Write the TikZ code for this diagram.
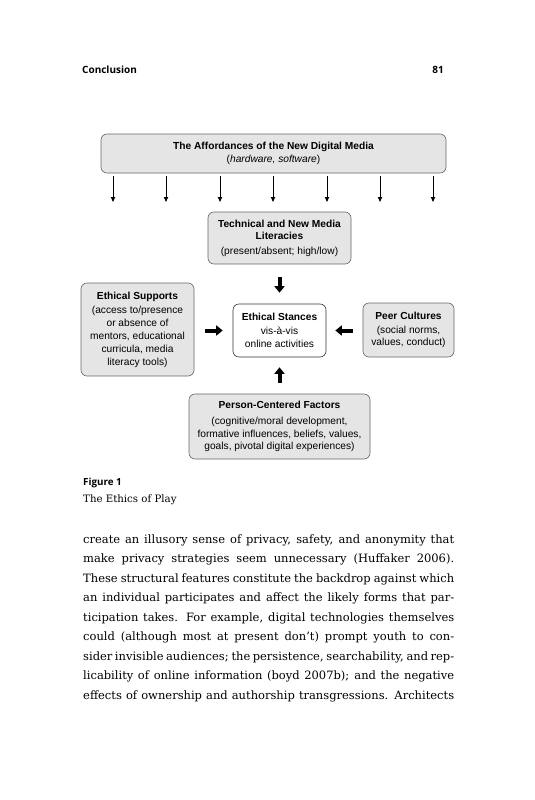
\documentclass[tikz,border=0pt]{standalone}
\usepackage{fontspec}
\setmainfont{DejaVu Serif}
\setsansfont{Liberation Sans}
\newfontfamily\headfont{Open Sans}
\usetikzlibrary{arrows.meta}
\begin{document}
\begin{tikzpicture}[x=1pt,y=-1pt,
  box/.style={draw=black!60, fill=black!10, rounded corners=6pt, line width=0.6pt,
    font=\sffamily\fontsize{10.2}{12.8}\selectfont, align=center, inner sep=0pt},
  wbox/.style={box, fill=white, draw=black!80},
  thinarrow/.style={line width=1pt, -{Triangle[length=5pt,width=4.2pt]}},
  fatarrow/.style={line width=4pt, -{Triangle[length=6.5pt,width=10pt]}},
  head/.style={font=\headfont\bfseries\fontsize{10}{12}\selectfont, inner sep=0pt},
  bodyline/.style={anchor=base west, inner sep=0pt, font=\fontsize{11.5}{19.5}\selectfont},
]
\useasboundingbox (0,0) rectangle (535,800);
\fill[white] (0,0) rectangle (535,800);

% running head
\node[head, anchor=base west] (runhead) at (82,74) {Conclusion};
\node[head, anchor=base east] (pagenum) at (444,74) {81};

% boxes
\node[box, minimum width=345pt, minimum height=39pt] (top) at (273.5,153.5)
  {\textbf{The Affordances of the New Digital Media}\\(\textit{hardware, software})};
\node[box, minimum width=143pt, minimum height=52pt] (tech) at (279.5,238)
  {\textbf{Technical and New Media}\\\textbf{Literacies}\\[1.5pt](present/absent; high/low)};
\node[box, minimum width=113pt, minimum height=93pt] (sup) at (137.5,329.5)
  {\textbf{Ethical Supports}\\[2pt](access to/presence\\or absence of\\mentors, educational\\curricula, media\\literacy tools)};
\node[wbox, minimum width=93pt, minimum height=53pt] (stance) at (279.5,330.5)
  {\textbf{Ethical Stances}\\[1pt]vis-à-vis\\online activities};
\node[box, minimum width=91pt, minimum height=54pt] (peer) at (408.5,330)
  {\textbf{Peer Cultures}\\[1pt](social norms,\\values, conduct)};
\node[box, minimum width=181pt, minimum height=65pt] (person) at (279.5,426.5)
  {\textbf{Person-Centered Factors}\\[3pt](cognitive/moral development,\\formative influences, beliefs, values,\\goals, pivotal digital experiences)};

% thin arrows from the top box
\foreach \i/\x in {1/113,2/166,3/220,4/273,5/327,6/380,7/433}{
  \coordinate (a\i) at (\x,202);
  \draw[thinarrow, shorten <=3pt] (top.south -| a\i) -- (a\i);
}

% fat arrows into the centre
\draw[fatarrow, shorten <=13pt, shorten >=11pt] (tech.south) -- (stance.north);
\draw[fatarrow, shorten <=11pt, shorten >=10pt] (person.north) -- (stance.south);
\draw[fatarrow, shorten <=11pt, shorten >=10pt] (sup.east |- stance.west) -- (stance.west);
\draw[fatarrow, shorten <=10pt, shorten >=9pt] (peer.west |- stance.east) -- (stance.east);

% caption
\node[anchor=base west, inner sep=0pt, font=\headfont\bfseries\fontsize{9.8}{12}\selectfont] (figlabel) at (83,485.5) {Figure 1};
\node[anchor=base west, inner sep=0pt, font=\fontsize{10.2}{14}\selectfont] (figtitle) at (83,502) {The Ethics of Play};

% body text
\node[bodyline] (l1) at (83,543.3) {\hbox to 371pt{create an illusory sense of privacy, safety, and anonymity that}};
\node[bodyline] (l2) at (83,562.8) {\hbox to 371pt{make privacy strategies seem unnecessary (Huffaker 2006).}};
\node[bodyline] (l3) at (83,582.3) {\hbox to 371pt{These structural features constitute the backdrop against which}};
\node[bodyline] (l4) at (83,601.8) {\hbox to 371pt{an individual participates and affect the likely forms that par-}};
\node[bodyline] (l5) at (83,621.3) {\hbox to 371pt{ticipation takes. For example, digital technologies themselves}};
\node[bodyline] (l6) at (83,640.8) {\hbox to 371pt{could (although most at present don’t) prompt youth to con-}};
\node[bodyline] (l7) at (83,660.3) {\hbox to 371pt{sider invisible audiences; the persistence, searchability, and rep-}};
\node[bodyline] (l8) at (83,679.8) {\hbox to 371pt{licability of online information (boyd 2007b); and the negative}};
\node[bodyline] (l9) at (83,699.3) {\hbox to 371pt{effects of ownership and authorship transgressions. Architects}};
\end{tikzpicture}
\end{document}
